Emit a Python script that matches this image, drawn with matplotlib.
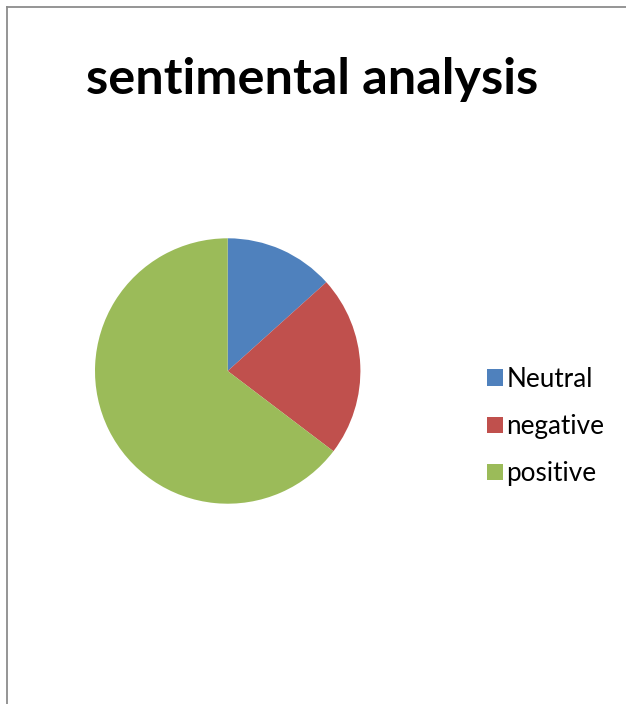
import matplotlib
matplotlib.use("Agg")
import matplotlib.pyplot as plt
from matplotlib.lines import Line2D

labels = ["Neutral", "negative", "positive"]
values = [40, 66, 194]
colors = ["#4F81BD", "#C0504D", "#9BBB59"]
title = "sentimental analysis"

W, H = 626, 704
fig = plt.figure(figsize=(W / 100, H / 100), dpi=100)
fig.patch.set_facecolor("white")

# outer frame (gray, partially cropped): top and left edges only
fy = 1 - 6.5 / H
fx = 6.5 / W
fig.add_artist(Line2D([fx, 1.0], [fy, fy], transform=fig.transFigure,
                      color="#8c8c8c", linewidth=1.3))
fig.add_artist(Line2D([fx, fx], [0.0, fy], transform=fig.transFigure,
                      color="#8c8c8c", linewidth=1.3))

cx, cy, r = 227.7, 371, 132.7
ax = fig.add_axes([(cx - r) / W, (H - cy - r) / H, 2 * r / W, 2 * r / H])
wedges, _ = ax.pie(values, colors=colors, startangle=90, counterclock=False,
                   radius=1, wedgeprops=dict(linewidth=0))
ax.set_xlim(-1, 1)
ax.set_ylim(-1, 1)
ax.set_aspect("equal")
ax.axis("off")

fig.text(312 / W, 1 - 80 / H, title, ha="center", va="center",
         fontsize=36.3, fontweight="bold", family="Lato")

leg = fig.legend(wedges, labels, loc="center left",
                 bbox_to_anchor=(487 / W, 1 - 426.5 / H), frameon=False,
                 prop=dict(family="Lato", size=18.8), handlelength=0.6,
                 handleheight=0.6, handletextpad=0.15, labelspacing=0.85,
                 borderpad=0, borderaxespad=0)

fig.savefig("out.png", dpi=100)
